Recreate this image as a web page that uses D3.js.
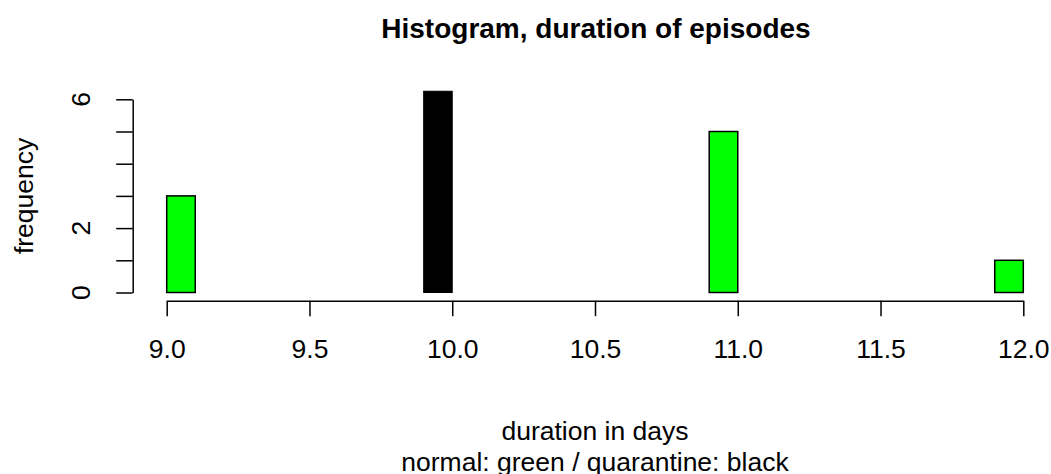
<!DOCTYPE html>
<html>
<head>
<meta charset="utf-8">
<script src="https://cdn.jsdelivr.net/npm/d3@7"></script>
<style>
  body { margin: 0; background: #fff; }
  svg text { font-family: "Liberation Sans", Arial, sans-serif; fill: #000; }
</style>
</head>
<body>
<div id="chart"></div>
<script>
(function(){
    "use strict";

    // bins of 0.1 day from 9.0 to 12.0
    var binStart = 9.0, binWidth = 0.1;
    // normal episodes (green), one count per bin
    var normalCounts = [3,0,0,0,0,0,0,0,0,0,
                        0,0,0,0,0,0,0,0,0,5,
                        0,0,0,0,0,0,0,0,0,1];
    // quarantine episodes (black)
    var quarantineBins = [9.9];
    var quarantineCounts = [6.25];

    var xTicks = [9.0, 9.5, 10.0, 10.5, 11.0, 11.5, 12.0];
    var yTicks = [0, 1, 2, 3, 4, 5, 6];
    var yLabels = [0, 2, 6];

    var width = 1051, height = 474;
    var labelSize = "26.5px";

    // set the ranges
    var x = d3.scaleLinear().domain([9, 12]).range([166.7, 1023.3]);
    var y = d3.scaleLinear().domain([0, 6]).range([292.5, 99.3]);

    var svg = d3.select("#chart").append("svg")
        .attr("width", width)
        .attr("height", height);

    // green histogram (zero bins too, like R draws them)
    svg.selectAll(".bar")
        .data(normalCounts)
        .enter().append("rect")
        .attr("class", "bar")
        .attr("x", function(d, i) { return x(binStart + i * binWidth); })
        .attr("width", function(d, i) { return x(binStart + (i + 1) * binWidth) - x(binStart + i * binWidth); })
        .attr("y", function(d) { return y(d); })
        .attr("height", function(d) { return y(0) - y(d); })
        .attr("fill", "#00ff00")
        .attr("stroke", "#000")
        .attr("stroke-width", 1.5);

    // black bar on top
    svg.selectAll(".qbar")
        .data(quarantineCounts)
        .enter().append("rect")
        .attr("class", "qbar")
        .attr("x", function(d, i) { return x(quarantineBins[i]); })
        .attr("width", function(d, i) { return x(quarantineBins[i] + binWidth) - x(quarantineBins[i]); })
        .attr("y", function(d) { return y(d); })
        .attr("height", function(d) { return y(0) - y(d); })
        .attr("fill", "#000")
        .attr("stroke", "#000")
        .attr("stroke-width", 1);

    // x axis
    var gx = svg.append("g")
        .attr("transform", "translate(0,300.7)")
        .call(d3.axisBottom(x).tickValues(xTicks).tickSize(15.5).tickSizeOuter(0)
            .tickFormat(d3.format(".1f")));
    gx.selectAll("text")
        .attr("y", 57.3).attr("dy", 0)
        .style("font-size", labelSize);

    // y axis
    var gy = svg.append("g")
        .attr("transform", "translate(132.7,0)")
        .call(d3.axisLeft(y).tickValues(yTicks).tickSize(16.5).tickSizeOuter(0)
            .tickFormat(""));

    svg.selectAll(".ylab")
        .data(yLabels)
        .enter().append("text")
        .attr("class", "ylab")
        .attr("transform", function(d) { return "translate(90," + y(d) + ") rotate(-90)"; })
        .attr("text-anchor", "middle")
        .style("font-size", labelSize)
        .text(function(d) { return d; });

    svg.selectAll(".domain, .tick line")
        .attr("stroke", "#000")
        .attr("stroke-width", 1.5);

    // titles
    svg.append("text")
        .attr("x", 596).attr("y", 38)
        .attr("text-anchor", "middle")
        .style("font-size", "28px")
        .style("font-weight", "bold")
        .text("Histogram, duration of episodes");

    svg.append("text")
        .attr("transform", "translate(33," + y(3) + ") rotate(-90)")
        .attr("text-anchor", "middle")
        .style("font-size", labelSize)
        .text("frequency");

    svg.append("text")
        .attr("x", 595).attr("y", 440)
        .attr("text-anchor", "middle")
        .style("font-size", labelSize)
        .text("duration in days");

    svg.append("text")
        .attr("x", 595).attr("y", 471)
        .attr("text-anchor", "middle")
        .style("font-size", labelSize)
        .text("normal: green / quarantine: black");
})();
</script>
</body>
</html>
